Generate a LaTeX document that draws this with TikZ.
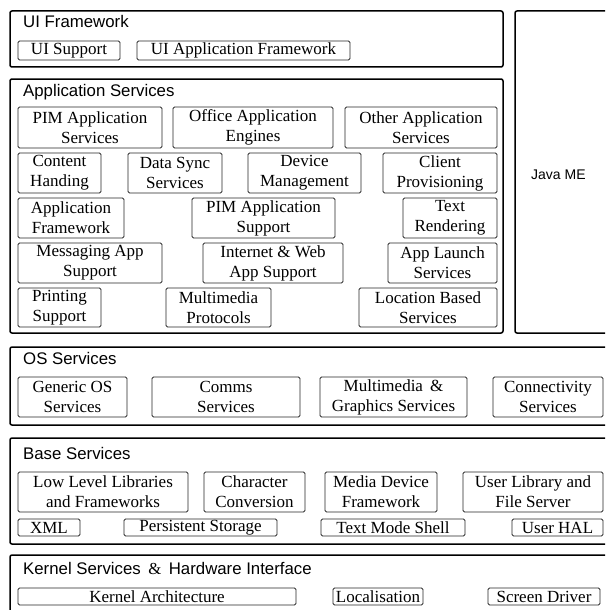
\documentclass[tikz,border=0pt]{standalone}
\usepackage{fontspec}
\setmainfont{Liberation Serif}
\newfontfamily\headfont{Liberation Sans}

\tikzset{
  layer/.style={draw=black, line width=1.5pt, rounded corners=2pt, inner sep=0pt},
  mod/.style={draw=black!85, line width=0.75pt, rounded corners=1.5pt, inner sep=0pt,
    align=center, font=\fontsize{17}{20}\selectfont},
  layertitle/.style={anchor=base west, inner sep=0pt, font=\headfont\fontsize{16.8}{19}\selectfont},
}

% layer frame: name, x1, y1, x2, y2
\newcommand\layerbox[5]{\node[layer, minimum width={#4pt-#2pt}, minimum height={#5pt-#3pt}]
  (#1) at ({(#2+#4)/2},{(#3+#5)/2}) {};}
% module box: name, x1, y1, x2, y2, text
\newcommand\modbox[6]{\node[mod, minimum width={#4pt-#2pt}, minimum height={#5pt-#3pt}]
  (#1) at ({(#2+#4)/2},{(#3+#5)/2}) {#6};}

\begin{document}
\begin{tikzpicture}[x=1pt, y=-1pt]
\useasboundingbox (0,0) rectangle (605,610);
\clip (0,0) rectangle (605,610);

% ---------- UI Framework ----------
\layerbox{ui}{10}{11}{503}{67}
\node[layertitle] (uiT) at (23,28) {UI Framework};
\modbox{uiSup}{18}{41}{120}{60}{UI Support}
\modbox{uiApp}{137}{41}{350}{60}{UI Application Framework}

% ---------- Java ME ----------
\layerbox{java}{515}{11}{640}{333}
\node[inner sep=0pt, anchor=base west, font=\headfont\fontsize{14}{17}\selectfont] (javaT) at (531,179) {Java ME};

% ---------- Application Services ----------
\layerbox{app}{10}{79}{503}{333}
\node[layertitle] (appT) at (23,96) {Application Services};
\modbox{pim}{18}{107}{162}{148}{PIM Application\\Services}
\modbox{office}{173}{107}{333}{148}{Office Application\\Engines}
\modbox{other}{345}{107}{497}{148}{Other Application\\Services}

\modbox{content}{18}{153}{101}{193}{Content\\Handing}
\modbox{sync}{128}{153}{222}{193}{Data Sync\\Services}
\modbox{device}{248}{153}{361}{193}{Device\\Management}
\modbox{client}{383}{153}{497}{193}{Client\\Provisioning}

\modbox{appfw}{18}{198}{124}{238}{Application\\Framework}
\modbox{pimsup}{192}{198}{335}{238}{PIM Application\\Support}
\modbox{text}{403}{198}{497}{238}{Text\\Rendering}

\modbox{msg}{18}{243}{162}{283}{Messaging App\\Support}
\modbox{web}{203}{243}{343}{283}{Internet \& Web\\App Support}
\modbox{launch}{388}{243}{497}{283}{App Launch\\Services}

\modbox{print}{18}{288}{101}{327}{Printing\\Support}
\modbox{mmproto}{166}{288}{271}{327}{Multimedia\\Protocols}
\modbox{loc}{359}{288}{497}{327}{Location Based\\Services}

% ---------- OS Services ----------
\layerbox{os}{10}{347}{640}{425}
\node[layertitle] (osT) at (23,364) {OS Services};
\modbox{generic}{18}{377}{127}{417}{Generic OS\\Services}
\modbox{comms}{152}{377}{300}{417}{Comms\\Services}
\modbox{mmgfx}{320}{377}{467}{417}{Multimedia \,\&\\Graphics Services}
\modbox{conn}{493}{377}{603}{417}{Connectivity\\Services}

% ---------- Base Services ----------
\layerbox{base}{10}{438}{640}{544}
\node[layertitle] (baseT) at (23,459) {Base Services};
\modbox{lowlev}{18}{472}{188}{512}{Low Level Libraries\\and Frameworks}
\modbox{charconv}{204}{472}{305}{512}{Character\\Conversion}
\modbox{mediadev}{325}{472}{437}{512}{Media Device\\Framework}
\modbox{userlib}{463}{472}{603}{512}{User Library and\\File Server}
\modbox{xml}{18}{519}{80}{536}{XML}
\modbox{persist}{124}{519}{277}{536}{Persistent Storage}
\modbox{shell}{321}{519}{465}{536}{Text Mode Shell}
\modbox{hal}{512}{519}{603}{536}{User HAL}

% ---------- Kernel Services & Hardware Interface ----------
\layerbox{kernel}{10}{555}{640}{640}
\node[layertitle] (kernelT) at (23,574) {Kernel Services \,{\fontspec{Liberation Serif}\&}\, Hardware Interface};
\modbox{karch}{18}{588}{296}{605}{Kernel Architecture}
\modbox{local}{333}{588}{423}{605}{Localisation}
\modbox{screen}{488}{588}{600}{605}{Screen Driver}
\end{tikzpicture}
\end{document}
